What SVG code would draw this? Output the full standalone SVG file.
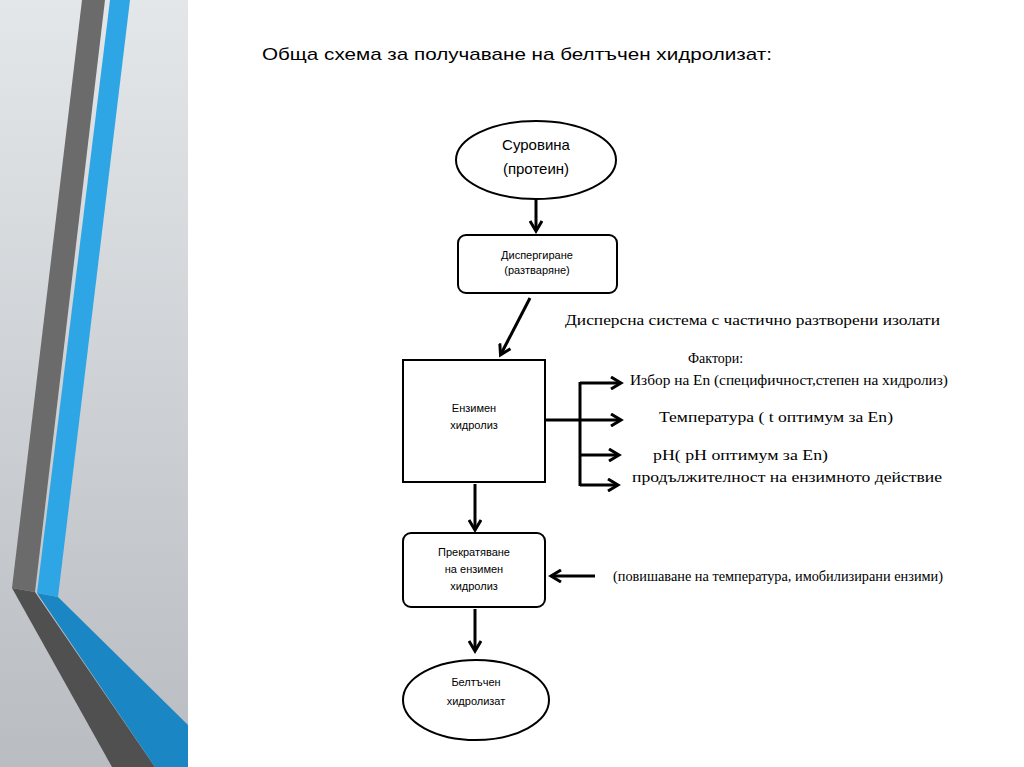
<svg xmlns="http://www.w3.org/2000/svg" width="1024" height="767" viewBox="0 0 1024 767">
<defs>
<linearGradient id="bg" x1="0" y1="0" x2="0" y2="1"><stop offset="0" stop-color="#e4e7ea"/><stop offset="1" stop-color="#b9bcc0"/></linearGradient>
<marker id="ahb" markerWidth="14" markerHeight="14" refX="10" refY="7" orient="auto" markerUnits="userSpaceOnUse"><path d="M1,1 L11,7 L1,13" fill="none" stroke="#000" stroke-width="3"/></marker>
</defs>
<style>
.n{fill:#fff;stroke:#000;stroke-width:2}
.c{stroke:#000;stroke-width:3;fill:none}
.s{font-family:"Liberation Sans",Arial,sans-serif;font-size:11px;fill:#000;text-anchor:middle}
.b{font-size:15px}
.r{font-family:"Liberation Serif","Times New Roman",serif;font-size:14px;fill:#000}
</style>
<rect width="1024" height="767" fill="#fff"/>
<rect width="188" height="767" fill="url(#bg)"/>
<polygon points="82,0 105,0 35,592 12,588" fill="#6b6b6b"/>
<polygon points="12,588 35,592 155,767 112,767" fill="#505050"/>
<polygon points="110,0 130,0 58,597 37,593" fill="#2ea6e6"/>
<polygon points="37,593 58,597 188,725 188,767 155,767" fill="#1a87c4"/>
<text x="262" y="60" font-family="Liberation Sans,Arial,sans-serif" font-size="17" fill="#000" textLength="510" lengthAdjust="spacingAndGlyphs">Обща схема за получаване на белтъчен хидролизат:</text>
<g id="connectors">
<line class="c" x1="536" y1="195" x2="536" y2="230" marker-end="url(#ahb)"/>
<line class="c" x1="530" y1="298" x2="501" y2="354" marker-end="url(#ahb)"/>
<line class="c" x1="545" y1="420" x2="580" y2="420"/>
<line class="c" x1="580" y1="382" x2="580" y2="486"/>
<line class="c" x1="580" y1="383" x2="620" y2="383" marker-end="url(#ahb)"/>
<line class="c" x1="580" y1="420" x2="620" y2="420" marker-end="url(#ahb)"/>
<line class="c" x1="580" y1="455" x2="618" y2="455" marker-end="url(#ahb)"/>
<line class="c" x1="580" y1="485" x2="617" y2="485" marker-end="url(#ahb)"/>
<line class="c" x1="475" y1="484" x2="475" y2="529" marker-end="url(#ahb)"/>
<line class="c" x1="595" y1="576" x2="552" y2="576" stroke-width="2.5" marker-end="url(#ahb)"/>
<line class="c" x1="475" y1="609" x2="475" y2="650" marker-end="url(#ahb)"/>
</g>
<g id="n1"><ellipse class="n" cx="536" cy="160" rx="80" ry="39"/><text class="s b" x="536" y="150">Суровина</text><text class="s b" x="536" y="174">(протеин)</text></g>
<g id="n2"><rect class="n" x="458" y="235" width="159" height="58" rx="8"/><text class="s" x="537" y="259">Диспергиране</text><text class="s" x="537" y="274">(разтваряне)</text></g>
<g id="n3"><rect class="n" x="403" y="360" width="142" height="122"/><text class="s" x="474" y="412">Ензимен</text><text class="s" x="474" y="429">хидролиз</text></g>
<g id="n4"><rect class="n" x="403" y="533" width="142" height="74" rx="8"/><text class="s" x="474" y="556">Прекратяване</text><text class="s" x="474" y="573">на ензимен</text><text class="s" x="474" y="590">хидролиз</text></g>
<g id="n5"><ellipse class="n" cx="476" cy="700" rx="73" ry="40"/><text class="s" x="476" y="686">Белтъчен</text><text class="s" x="476" y="705">хидролизат</text></g>
<text class="r" x="565" y="325" textLength="375" lengthAdjust="spacingAndGlyphs">Дисперсна система с частично разтворени изолати</text>
<text class="r" x="688" y="363">Фактори:</text>
<text class="r" x="630" y="385" textLength="318" lengthAdjust="spacingAndGlyphs">Избор на En (специфичност,степен на хидролиз)</text>
<text class="r" x="659" y="422" textLength="234" lengthAdjust="spacingAndGlyphs">Температура ( t оптимум за En)</text>
<text class="r" x="653" y="460" textLength="175" lengthAdjust="spacingAndGlyphs">pH( pH оптимум за En)</text>
<text class="r" x="632" y="482" textLength="310" lengthAdjust="spacingAndGlyphs">продължителност на ензимното действие</text>
<text class="r" x="613" y="581" textLength="330" lengthAdjust="spacingAndGlyphs">(повишаване на температура, имобилизирани ензими)</text>
</svg>
